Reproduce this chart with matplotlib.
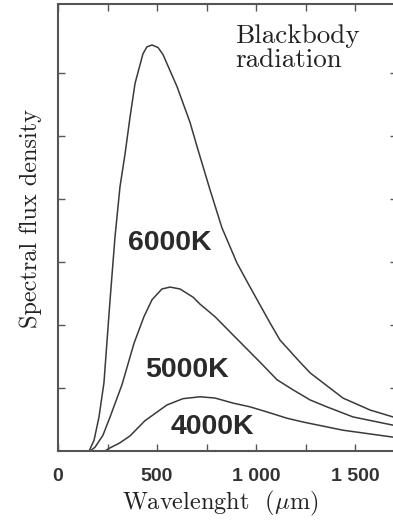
import matplotlib
matplotlib.use('Agg')
import matplotlib.pyplot as plt

# values (wavelength as labelled on the axis, flux in tick units)
wl_6000 = [157, 182, 207, 232, 263, 288, 313, 338, 364, 389, 429, 449, 475, 505, 530,
           601, 667, 702, 768, 828, 904, 970, 1071, 1121, 1222, 1273, 1439, 1576, 1692, 1720]
flux_6000 = [0.00, 0.17, 0.54, 1.08, 2.40, 3.40, 4.19, 4.70, 5.30, 5.83, 6.30, 6.41, 6.44, 6.40, 6.29,
             5.78, 5.21, 4.83, 4.14, 3.54, 2.98, 2.60, 2.03, 1.76, 1.41, 1.24, 0.84, 0.65, 0.54, 0.52]

wl_5000 = [162, 187, 227, 263, 323, 384, 434, 475, 525, 566, 616, 682, 717, 793, 884,
           1020, 1106, 1187, 1273, 1358, 1490, 1692, 1720]
flux_5000 = [0.00, 0.06, 0.25, 0.54, 1.05, 1.71, 2.13, 2.40, 2.57, 2.60, 2.57, 2.44, 2.33, 2.13, 1.84,
             1.41, 1.13, 0.97, 0.81, 0.70, 0.54, 0.41, 0.40]

wl_4000 = [237, 263, 313, 364, 439, 550, 631, 717, 793, 884, 970, 1055, 1156, 1237, 1439, 1692, 1720]
flux_4000 = [0.00, 0.05, 0.13, 0.24, 0.48, 0.73, 0.83, 0.86, 0.84, 0.76, 0.70, 0.62, 0.52, 0.46, 0.33, 0.22, 0.21]

temp_labels = ['6000K', '5000K', '4000K']
x_ticks = [0, 500, 1000, 1500]
x_tick_labels = ['0', '500', '1 000', '1 500']
x_minor = [250, 500, 750, 1000, 1250, 1500]
y_ticks = [1, 2, 3, 4, 5, 6]

plt.rcParams['mathtext.fontset'] = 'cm'

fig = plt.figure(figsize=(3.93, 5.20), dpi=100)
ax = fig.add_axes([58 / 393, 1 - 451 / 520, 339 / 393, 447 / 520])

line_col = '#3a3a3a'
for xs, ys in [(wl_6000, flux_6000), (wl_5000, flux_5000), (wl_4000, flux_4000)]:
    ax.plot(xs, ys, color=line_col, lw=1.1, solid_joinstyle='round')

ax.set_xlim(0, 1712)
ax.set_ylim(0, 7.09)

ax.set_xticks(x_ticks)
ax.set_xticklabels(x_tick_labels, family='Liberation Sans', fontweight='bold',
                   fontsize=14, color='#333333')
ax.set_xticks(x_minor, minor=True)
ax.set_yticks(y_ticks)
ax.set_yticklabels([])
ax.tick_params(which='both', direction='in', top=True, right=True,
               length=5, width=1, color='#555555')
ax.tick_params(axis='x', pad=12)

for s in ax.spines.values():
    s.set_color('#555555')
    s.set_linewidth(1.5)

ax.set_ylabel('Spectral flux density', family='cmr10', fontsize=17.5, color='#222222')
ax.yaxis.set_label_coords(-0.047, 0.52)
ax.set_xlabel(r'Wavelenght  $(\mu$m$)$', family='cmr10', fontsize=17.5, color='#222222')
ax.xaxis.set_label_coords(0.478, -0.084)

ax.text(0.522, 0.955, 'Blackbody\nradiation', transform=ax.transAxes, ha='left', va='top',
        family='cmr10', fontsize=19.5, linespacing=1.0, color='#222222')

# curve labels
label_pos = [(566, 3.30), (651, 1.29), (778, 0.38)]
for lab, (lx, ly) in zip(temp_labels, label_pos):
    ax.text(lx, ly, lab, ha='center', va='center', family='Liberation Sans',
            fontweight='bold', fontsize=20.5, color='#2a2a2a')

fig.savefig('out.png', dpi=100)
